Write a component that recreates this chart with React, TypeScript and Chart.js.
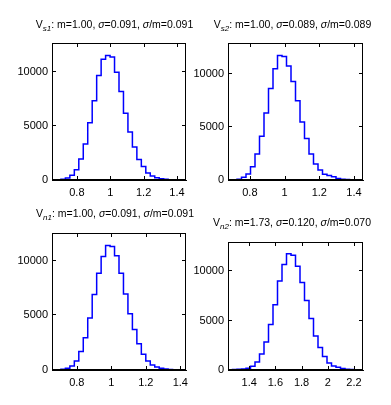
import React, { useEffect, useRef } from "react";
import { Chart, registerables } from "chart.js";

Chart.register(...registerables);

const W = 391;
const H = 405;

// ---- data ----
const panelNames = ["s1", "s2", "n1", "n2"];
const panelMeans = ["1.00", "1.00", "1.00", "1.73"];
const panelSigmas = ["0.091", "0.089", "0.091", "0.120"];
const panelRatios = ["0.091", "0.089", "0.091", "0.070"];

// x-range (data min .. max) of each histogram, split into 30 equal bins
const vs1Range = [0.651, 1.454];
const vs2Range = [0.674, 1.452];
const vn1Range = [0.656, 1.433];
const vn2Range = [1.238, 2.269];

const vs1Counts = [10, 20, 60, 190, 450, 960, 1950, 3350, 5300, 7350, 9700, 11200, 11550, 11400, 10000, 8200, 6200, 4450, 3050, 1900, 1250, 650, 380, 210, 110, 60, 30, 15, 8, 4];
const vs2Counts = [15, 30, 70, 250, 570, 1250, 2450, 4100, 6300, 8600, 10450, 11700, 11600, 10700, 9250, 7450, 5450, 3900, 2450, 1500, 950, 530, 420, 300, 130, 70, 40, 20, 10, 5];
const vn1Counts = [10, 25, 60, 160, 370, 830, 1700, 2950, 4750, 6900, 8850, 10400, 11400, 11300, 10450, 8850, 6950, 5150, 3700, 2400, 1450, 830, 460, 280, 170, 90, 45, 25, 12, 6];
const vn2Counts = [20, 40, 80, 100, 170, 370, 810, 1630, 2850, 4610, 6610, 9020, 10710, 11800, 11630, 10510, 8880, 7050, 5220, 3460, 2270, 1360, 710, 410, 270, 140, 70, 40, 20, 10];

const yLimits = [12705, 12870, 12540, 12980];
const yTicks = [0, 5000, 10000];
const xTicksV = [0.8, 1, 1.2, 1.4];
const xTicksN2 = [1.4, 1.6, 1.8, 2, 2.2];

const ranges = [vs1Range, vs2Range, vn1Range, vn2Range];
const counts = [vs1Counts, vs2Counts, vn1Counts, vn2Counts];
const xTickSets = [xTicksV, xTicksV, xTicksV, xTicksN2];

// ---- layout ----
const boxes = [
  { l: 52, t: 43, r: 186, b: 180 },
  { l: 228, t: 43, r: 363, b: 180 },
  { l: 52, t: 233, r: 186, b: 370 },
  { l: 228, t: 242, r: 363, b: 370 },
];
const titlePos = [
  { cx: 114.5, base: 28 },
  { cx: 292.5, base: 28 },
  { cx: 115, base: 217 },
  { cx: 292, base: 226 },
];

const Y_W = 46;
const X_H = 30;
const FONT = '"Liberation Sans", Arial, Helvetica, sans-serif';

function drawFrame(chart: any) {
  const ctx = chart.ctx;
  const a = chart.chartArea;
  const sx = chart.scales.x;
  const sy = chart.scales.y;
  if (!a || !sx || !sy) return;
  const l = Math.round(a.left);
  const t = Math.round(a.top);
  const r = Math.round(a.right);
  const b = Math.round(a.bottom);
  ctx.save();
  ctx.fillStyle = "#000000";
  ctx.globalAlpha = 1;
  ctx.fillRect(l, t, r - l, 1);
  ctx.fillRect(l, b - 1, r - l, 1);
  ctx.fillRect(l, t, 1, b - t);
  ctx.fillRect(r - 1, t, 1, b - t);
  const L = 3;
  (sx.ticks || []).forEach((tk: any) => {
    const x = Math.round(sx.getPixelForValue(tk.value));
    ctx.fillRect(x, t + 1, 1, L);
    ctx.fillRect(x, b - 1 - L, 1, L);
  });
  (sy.ticks || []).forEach((tk: any) => {
    const y = Math.round(sy.getPixelForValue(tk.value)) - 1;
    ctx.fillRect(l + 1, y, L, 1);
    ctx.fillRect(r - 1 - L, y, L, 1);
  });
  ctx.restore();
}

function histPoints(range: number[], c: number[]) {
  const n = c.length;
  const w = (range[1] - range[0]) / n;
  const pts: { x: number; y: number }[] = [];
  for (let i = 0; i < n; i++) {
    pts.push({ x: range[0] + i * w, y: c[i] });
    pts.push({ x: range[0] + (i + 1) * w, y: c[i] });
  }
  return pts;
}

function Panel({ idx }: { idx: number }) {
  const ref = useRef<HTMLCanvasElement | null>(null);
  useEffect(() => {
    const box = boxes[idx];
    const range = ranges[idx];
    const xt = xTickSets[idx];
    const framePlugin = {
      id: "frame" + idx,
      afterDraw: (chart: any) => drawFrame(chart),
    };
    const chart = new Chart(ref.current as HTMLCanvasElement, {
      type: "line",
      data: {
        datasets: [
          {
            data: histPoints(range, counts[idx]),
            borderColor: "#0000ff",
            borderWidth: 1.5,
            pointRadius: 0,
            fill: false,
            tension: 0,
          },
        ],
      },
      options: {
        animation: false,
        responsive: false,
        devicePixelRatio: 1,
        events: [],
        layout: {
          padding: {
            left: box.l - Y_W,
            top: box.t,
            right: W - box.r,
            bottom: H - box.b - X_H,
          },
        },
        plugins: { legend: { display: false }, tooltip: { enabled: false }, title: { display: false } },
        scales: {
          x: {
            type: "linear",
            min: range[0],
            max: range[1],
            grid: { display: false, drawTicks: false, tickLength: 0 },
            border: { display: true, color: "#000", width: 1 },
            afterBuildTicks: (s: any) => {
              s.ticks = xt.map((v) => ({ value: v }));
            },
            afterFit: (s: any) => {
              s.height = X_H;
            },
            ticks: {
              autoSkip: false,
              maxRotation: 0,
              padding: 6,
              color: "#000",
              font: { family: FONT, size: 11 },
              callback: (v: any) => String(v),
            },
          },
          y: {
            type: "linear",
            min: 0,
            max: yLimits[idx],
            grid: { display: false, drawTicks: false, tickLength: 0 },
            border: { display: true, color: "#000", width: 1 },
            afterBuildTicks: (s: any) => {
              s.ticks = yTicks.map((v) => ({ value: v }));
            },
            afterFit: (s: any) => {
              s.width = Y_W;
            },
            ticks: {
              padding: 4,
              color: "#000",
              font: { family: FONT, size: 11 },
              callback: (v: any) => String(v),
            },
          },
        },
      },
      plugins: [framePlugin],
    } as any);
    drawFrame(chart);
    return () => chart.destroy();
  }, [idx]);
  return (
    <canvas
      ref={ref}
      width={W}
      height={H}
      style={{ position: "absolute", left: 0, top: 0, width: W, height: H }}
    />
  );
}

function Title({ idx }: { idx: number }) {
  const p = titlePos[idx];
  return (
    <div
      style={{
        position: "absolute",
        left: p.cx,
        top: p.base - 10,
        transform: "translateX(-50%)",
        whiteSpace: "nowrap",
        fontFamily: FONT,
        fontSize: "10.5px",
        lineHeight: "12px",
        color: "#000",
      }}
    >
      V
      <span style={{ fontSize: "8px", position: "relative", top: "3px", fontStyle: "italic" }}>
        {panelNames[idx]}
      </span>
      : m={panelMeans[idx]}, <i>σ</i>={panelSigmas[idx]}, <i>σ</i>/m={panelRatios[idx]}
    </div>
  );
}

export default function App() {
  return (
    <div style={{ position: "fixed", left: 0, top: 0, width: W, height: H, background: "#fff", overflow: "hidden" }}>
      {[0, 1, 2, 3].map((i) => (
        <Panel key={"p" + i} idx={i} />
      ))}
      {[0, 1, 2, 3].map((i) => (
        <Title key={"t" + i} idx={i} />
      ))}
    </div>
  );
}
